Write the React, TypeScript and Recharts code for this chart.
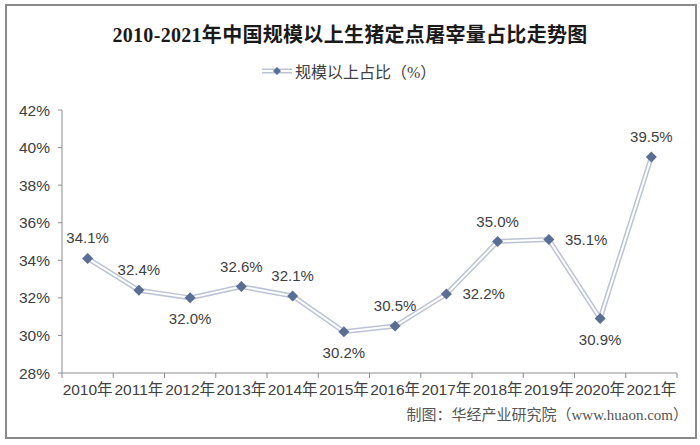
import { CartesianGrid, LabelList, Line, LineChart, XAxis, YAxis } from "recharts";

const years = ["2010年", "2011年", "2012年", "2013年", "2014年", "2015年", "2016年", "2017年", "2018年", "2019年", "2020年", "2021年"];
const shares = [34.1, 32.4, 32.0, 32.6, 32.1, 30.2, 30.5, 32.2, 35.0, 35.1, 30.9, 39.5];
// where each data label sits relative to its point
const labelPos = ["top", "top", "bottom", "top", "top", "bottom", "top", "right", "top", "right", "bottom", "top"];
const yTicks = [28, 30, 32, 34, 36, 38, 40, 42];

const data = years.map((year, i) => ({ year, share: shares[i] }));

const W = 700;
const H = 445;
const margin = { top: 110, right: 23, bottom: 42, left: 0 };
const yAxisWidth = 62;
const xAxisHeight = 30;
const band = (W - margin.left - margin.right - yAxisWidth) / years.length;

const textColor = "#404040";
const axisColor = "#8c8c8c";
const markerColor = "#5a6d92";
const lineColor = "#bcc3d4";
const font = "'Liberation Sans', Arial, 'Noto Sans CJK SC', sans-serif";

function Diamond(props: any) {
  const { cx, cy } = props;
  if (cx == null || cy == null) return null;
  const r = 5.5;
  return (
    <path
      d={`M${cx},${cy - r} L${cx + r},${cy} L${cx},${cy + r} L${cx - r},${cy} Z`}
      fill={markerColor}
    />
  );
}

function XTick(props: any) {
  const { x, y, payload, index } = props;
  const half = band / 2;
  return (
    <g>
      <line x1={x - half} x2={x - half} y1={y - 8} y2={y - 3} stroke={axisColor} />
      {index === years.length - 1 && (
        <line x1={x + half} x2={x + half} y1={y - 8} y2={y - 3} stroke={axisColor} />
      )}
      <text x={x} y={y + 14} textAnchor="middle" fontSize={15.5} fill={textColor} fontFamily={font}>
        {payload.value}
      </text>
    </g>
  );
}

function ValueLabel(props: any) {
  const { x, y, value, index } = props;
  const pos = labelPos[index];
  let tx = x;
  let ty = y;
  let anchor: "middle" | "start" = "middle";
  if (pos === "top") ty = y - 20;
  else if (pos === "bottom") ty = y + 21;
  else {
    tx = x + 16;
    anchor = "start";
  }
  return (
    <text x={tx} y={ty} dy={5} textAnchor={anchor} fontSize={15} fill={textColor} fontFamily={font}>
      {value.toFixed(1)}%
    </text>
  );
}

export default function App() {
  return (
    <div style={{ position: "absolute", left: 0, top: 0, width: W, height: H, background: "#fff" }}>
      <div
        style={{
          position: "absolute",
          left: 5,
          top: 4,
          width: 688,
          height: 431,
          border: "2px solid #8a8a8a",
        }}
      />
      <div
        style={{
          position: "absolute",
          left: 0,
          top: 19,
          width: W,
          textAlign: "center",
          fontSize: 20,
          fontWeight: "bold",
          color: "#1a1a1a",
          fontFamily: "'Liberation Serif', 'Noto Sans CJK SC', serif",
          letterSpacing: 0.3,
        }}
      >
        2010-2021年中国规模以上生猪定点屠宰量占比走势图
      </div>
      <div
        style={{
          position: "absolute",
          left: 261,
          top: 59,
          display: "flex",
          alignItems: "center",
          fontSize: 16,
          color: textColor,
          fontFamily: "'Liberation Serif', 'Noto Sans CJK SC', serif",
        }}
      >
        <svg width={32} height={14} style={{ marginRight: 2 }}>
          <line x1={1} x2={31} y1={7} y2={7} stroke={lineColor} strokeWidth={5} />
          <line x1={1} x2={31} y1={7} y2={7} stroke="#fff" strokeWidth={2} />
          <path d="M16,3 L20,7 L16,11 L12,7 Z" fill={markerColor} />
        </svg>
        规模以上占比（%）
      </div>
      <LineChart width={W} height={H} data={data} margin={margin}>
        <CartesianGrid horizontal={false} vertical={false} />
        <XAxis
          dataKey="year"
          height={xAxisHeight}
          axisLine={{ stroke: axisColor }}
          tickLine={false}
          interval={0}
          padding={{ left: band / 2, right: band / 2 }}
          tick={<XTick />}
        />
        <YAxis
          domain={[28, 42]}
          ticks={yTicks}
          width={yAxisWidth}
          axisLine={{ stroke: axisColor }}
          tickLine={{ stroke: axisColor }}
          tickSize={4}
          tickMargin={8}
          tickFormatter={(v: number) => `${v}%`}
          tick={{ fontSize: 15.5, fill: textColor, fontFamily: font }}
        />
        <Line
          dataKey="share"
          stroke={lineColor}
          strokeWidth={5}
          dot={false}
          activeDot={false}
          isAnimationActive={false}
        />
        <Line
          dataKey="share"
          stroke="#ffffff"
          strokeWidth={2}
          dot={<Diamond />}
          activeDot={false}
          isAnimationActive={false}
        >
          <LabelList dataKey="share" content={<ValueLabel />} />
        </Line>
      </LineChart>
      <div
        style={{
          position: "absolute",
          right: 12,
          top: 403,
          fontSize: 15,
          color: "#555",
          fontFamily: "'Liberation Serif', 'Noto Sans CJK SC', serif",
        }}
      >
        制图：华经产业研究院（www.huaon.com）
      </div>
    </div>
  );
}
